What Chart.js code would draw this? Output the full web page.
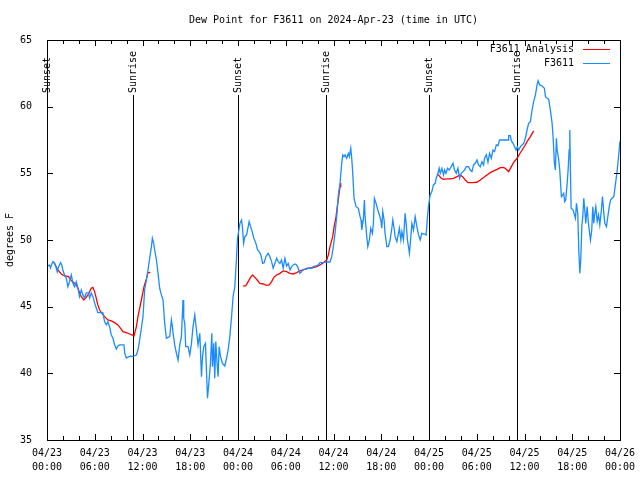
<!DOCTYPE html>
<html>
<head>
<meta charset="utf-8">
<title>Dew Point for F3611</title>
<script src="https://cdn.jsdelivr.net/npm/chart.js@4.4.1/dist/chart.umd.min.js"></script>
<style>
  html, body { margin: 0; padding: 0; background: #fff; }
  #chart { display: block; }
</style>
</head>
<body>
<canvas id="chart" width="640" height="480"></canvas>
<script>
// x values are hours since 04/23 00:00 UTC

// F3611 observations
const obsHours = [
  0.10, 0.31, 0.44, 0.60, 0.73, 0.94, 1.16, 1.28, 1.45, 1.70, 1.86, 1.99, 2.20, 2.42, 2.62, 2.83, 3.05, 3.25, 3.46, 3.68,
  3.88, 4.09, 4.31, 4.51, 4.72, 4.93, 5.22, 5.35, 5.56, 5.77, 5.98, 6.19, 6.39, 6.82, 7.02, 7.24, 7.45, 7.65, 7.87, 8.08,
  8.28, 8.50, 8.71, 8.91, 9.13, 9.67, 9.76, 9.97, 10.26, 10.51, 10.67, 10.93, 11.23, 11.43, 11.64, 11.86, 12.06, 12.27, 12.49, 12.69,
  12.90, 13.12, 13.24, 13.41, 13.53, 13.75, 13.95, 14.16, 14.37, 14.58, 14.79, 15.00, 15.21, 15.42, 15.63, 15.76, 15.84, 16.05, 16.26, 16.47,
  16.68, 16.89, 17.09, 17.18, 17.31, 17.43, 17.72, 17.94, 18.15, 18.35, 18.57, 18.78, 18.98, 19.20, 19.41, 19.54, 19.70, 19.91, 20.04, 20.17,
  20.33, 20.54, 20.71, 20.80, 20.96, 21.08, 21.21, 21.37, 21.50, 21.63, 21.80, 22.05, 22.34, 22.56, 22.76, 22.97, 23.19, 23.39, 23.60, 23.82,
  23.94, 24.11, 24.24, 24.45, 24.57, 24.70, 24.86, 25.08, 25.28, 25.40, 25.58, 25.78, 25.99, 26.25, 26.46, 26.66, 26.88, 27.09, 27.29, 27.50,
  27.79, 28.01, 28.22, 28.42, 28.64, 28.85, 29.05, 29.27, 29.48, 29.68, 29.89, 30.11, 30.31, 30.53, 30.74, 30.94, 31.16, 31.37, 31.57, 31.78,
  32.00, 32.20, 32.54, 32.83, 33.26, 33.46, 33.80, 34.09, 34.30, 34.72, 35.15, 35.56, 35.78, 35.98, 36.19, 36.40, 36.61, 36.82, 37.03, 37.16,
  37.32, 37.45, 37.66, 37.86, 37.99, 38.17, 38.29, 38.42, 38.58, 38.83, 39.12, 39.34, 39.46, 39.55, 39.75, 39.88, 39.97, 40.18, 40.31, 40.51,
  40.68, 40.89, 41.01, 41.14, 41.35, 41.57, 41.77, 41.94, 42.07, 42.19, 42.36, 42.48, 42.70, 42.90, 43.11, 43.33, 43.45, 43.62, 43.74, 43.96,
  44.16, 44.28, 44.46, 44.59, 44.79, 45.00, 45.13, 45.29, 45.42, 45.54, 45.72, 45.85, 46.05, 46.26, 46.48, 46.68, 46.89, 47.10, 47.43, 47.64,
  47.81, 47.93, 48.15, 48.36, 48.56, 48.78, 48.90, 49.07, 49.28, 49.41, 49.62, 49.82, 49.95, 50.13, 50.33, 50.54, 50.79, 51.01, 51.21, 51.42,
  51.64, 51.84, 52.05, 52.27, 52.47, 52.68, 52.97, 53.18, 53.40, 53.60, 53.81, 54.03, 54.23, 54.44, 54.66, 54.86, 54.98, 55.20, 55.41, 55.61,
  55.83, 56.04, 56.24, 56.46, 56.67, 56.87, 57.17, 57.59, 57.93, 58.01, 58.22, 58.35, 58.56, 58.76, 58.94, 59.11, 59.27, 59.49, 59.70, 59.90,
  60.11, 60.32, 60.52, 60.74, 60.95, 61.15, 61.37, 61.58, 61.71, 61.91, 62.21, 62.50, 62.63, 62.84, 63.04, 63.25, 63.47, 63.59, 63.76, 63.88,
  64.01, 64.10, 64.30, 64.43, 64.52, 64.64, 64.80, 64.93, 65.05, 65.18, 65.36, 65.48, 65.61, 65.69, 65.77, 65.86, 66.11, 66.28, 66.40, 66.53,
  66.69, 66.82, 66.95, 67.07, 67.20, 67.32, 67.45, 67.57, 67.70, 67.87, 68.00, 68.13, 68.29, 68.45, 68.58, 68.70, 68.83, 68.96, 69.13, 69.30,
  69.46, 69.64, 69.80, 69.97, 70.09, 70.30, 70.47, 70.65, 70.81, 71.02, 71.22, 71.44, 71.65, 71.86, 71.98
];
const obsValues = [
  48.05, 48.13, 47.90, 48.20, 48.37, 48.28, 47.90, 47.62, 47.98, 48.30, 48.13, 47.75, 47.38, 47.15, 46.50, 46.87, 47.38, 46.78, 46.50, 46.87,
  46.40, 45.75, 46.25, 45.88, 45.65, 46.03, 46.03, 45.65, 46.03, 45.75, 45.28, 44.90, 44.55, 44.55, 44.55, 43.87, 43.63, 43.87, 43.48, 42.88,
  42.65, 42.13, 41.83, 42.05, 42.13, 42.13, 41.53, 41.15, 41.23, 41.30, 41.25, 41.30, 41.38, 41.75, 42.50, 43.40, 44.25, 46.25, 47.00, 47.75,
  48.63, 49.50, 50.13, 49.75, 49.25, 48.50, 47.50, 46.38, 45.88, 45.50, 43.75, 42.63, 42.70, 42.75, 44.00, 43.50, 43.00, 42.13, 41.50, 41.00,
  42.13, 42.75, 45.50, 44.13, 43.75, 42.00, 42.00, 41.38, 42.25, 43.50, 44.38, 43.25, 42.13, 43.00, 39.75, 41.25, 42.00, 42.25, 40.13, 38.13,
  39.25, 40.75, 43.00, 40.50, 42.25, 39.63, 42.38, 40.75, 39.75, 42.00, 41.25, 40.75, 40.55, 41.13, 41.75, 42.75, 44.25, 45.80, 46.50, 48.75,
  50.13, 50.75, 51.25, 51.50, 50.88, 49.75, 50.25, 50.38, 51.00, 51.38, 51.00, 50.63, 50.13, 49.75, 49.25, 49.13, 48.88, 48.25, 48.30, 48.75,
  49.00, 48.75, 48.38, 47.88, 48.25, 48.63, 48.38, 48.25, 48.50, 47.88, 48.63, 48.05, 48.25, 47.75, 48.00, 48.13, 48.20, 48.13, 47.88, 47.50,
  47.63, 47.80, 47.80, 47.88, 47.88, 48.00, 48.05, 48.13, 48.30, 48.30, 48.35, 48.35, 48.75, 49.50, 50.50, 51.75, 53.38, 54.25, 55.75, 56.38,
  56.25, 56.38, 56.13, 56.50, 56.25, 56.88, 56.13, 55.00, 53.13, 52.50, 52.38, 51.75, 51.50, 50.75, 51.50, 53.00, 51.75, 50.25, 49.50, 50.00,
  50.88, 50.50, 51.25, 53.13, 52.75, 52.25, 51.88, 51.50, 50.88, 52.13, 51.50, 50.50, 49.50, 49.50, 50.00, 50.88, 51.50, 50.88, 50.25, 49.88,
  50.50, 50.88, 50.00, 50.63, 50.00, 52.00, 51.25, 50.00, 49.50, 49.00, 50.25, 51.25, 50.75, 51.75, 51.00, 50.38, 50.00, 50.50, 50.45, 50.38,
  51.75, 52.50, 53.38, 53.63, 54.13, 54.25, 54.63, 54.88, 55.38, 55.00, 55.38, 54.88, 55.25, 55.00, 55.38, 55.25, 55.50, 55.75, 55.25, 55.00,
  55.38, 54.63, 55.00, 55.13, 55.25, 55.50, 55.50, 55.25, 55.13, 55.63, 55.75, 56.00, 55.63, 55.50, 55.88, 55.63, 56.13, 56.38, 55.83, 56.50,
  56.13, 56.75, 56.63, 57.13, 57.08, 57.50, 57.50, 57.50, 57.50, 57.83, 57.83, 57.43, 57.25, 57.00, 56.75, 57.00, 56.75, 57.00, 57.13, 57.25,
  57.63, 58.25, 58.75, 58.88, 59.75, 60.38, 60.88, 61.63, 61.95, 61.63, 61.55, 61.38, 60.75, 60.63, 60.55, 59.75, 58.75, 57.75, 55.75, 55.25,
  57.63, 56.75, 56.00, 55.25, 54.38, 53.25, 53.38, 53.50, 52.88, 53.00, 54.25, 55.25, 56.75, 58.25, 55.25, 52.38, 52.25, 51.88, 51.63, 52.75,
  52.00, 49.25, 47.50, 48.50, 51.00, 51.75, 53.13, 52.25, 51.25, 52.50, 51.50, 50.75, 50.00, 50.75, 52.50, 51.25, 52.00, 52.50, 51.38, 51.88,
  51.13, 52.13, 53.25, 52.00, 51.25, 51.00, 51.75, 52.50, 53.00, 53.13, 53.25, 54.25, 55.25, 56.50, 57.38
];

// F3611 Analysis (null = no analysis, line breaks)
const analysisHours = [
  0.73, 0.94, 1.36, 1.79, 2.20, 2.71, 3.05, 3.46, 3.68, 3.88, 4.31, 4.63, 4.93, 5.22, 5.56, 5.77, 5.98, 6.19, 6.39, 6.61,
  6.90, 7.24, 7.65, 8.08, 8.50, 8.91, 9.25, 9.54, 9.97, 10.39, 10.67, 10.93, 11.23, 11.43, 11.64, 11.86, 12.19, 12.49, 12.69, 12.99,
  18.00,
  24.65, 24.99, 25.28, 25.58, 25.83, 26.12, 26.41, 26.75, 27.16, 27.59, 27.92, 28.22, 28.51, 28.85, 29.27, 29.68, 30.11, 30.53, 30.94, 31.37,
  31.78, 32.20, 32.63, 33.04, 33.46, 33.89, 34.30, 34.72, 35.15, 35.35, 35.56, 35.90, 36.07, 36.32, 36.48, 36.82, 36.91,
  42.00,
  48.99, 49.19, 49.53, 49.82, 50.25, 50.67, 51.08, 51.51, 51.92, 52.22, 52.56, 52.90, 53.40, 54.03, 54.44, 54.86, 55.29, 55.70, 56.12, 56.55,
  56.96, 57.38, 57.68, 58.01, 58.35, 58.64, 59.07, 59.36, 59.70, 60.02, 60.32, 60.74, 61.15
];
const analysisValues = [
  48.37, 48.25, 47.75, 47.45, 47.30, 47.25, 46.95, 46.75, 46.63, 46.38, 45.75, 45.50, 45.70, 45.95, 46.38, 46.45, 46.13, 45.63, 45.13, 44.75,
  44.50, 44.25, 44.00, 43.93, 43.80, 43.63, 43.38, 43.13, 43.05, 42.95, 42.88, 42.80, 43.50, 44.25, 44.88, 45.50, 46.50, 47.08, 47.55, 47.58,
  null,
  46.55, 46.58, 46.88, 47.20, 47.38, 47.20, 47.00, 46.75, 46.70, 46.60, 46.63, 46.88, 47.20, 47.38, 47.50, 47.68, 47.63, 47.50, 47.45, 47.55,
  47.68, 47.75, 47.88, 47.90, 47.93, 48.00, 48.13, 48.30, 48.50, 48.88, 49.50, 50.25, 50.98, 51.75, 52.50, 54.00, 54.28,
  null,
  54.93, 54.88, 54.63, 54.55, 54.58, 54.58, 54.63, 54.75, 54.88, 54.75, 54.50, 54.30, 54.30, 54.33, 54.50, 54.68, 54.88, 55.05, 55.18, 55.30,
  55.43, 55.45, 55.33, 55.13, 55.50, 55.83, 56.13, 56.43, 56.75, 57.05, 57.38, 57.75, 58.18
];

// sunrise / sunset markers
const sunEventHours = [0.0, 10.80, 24.02, 35.02, 48.06, 59.06];
const sunEventLabels = ['Sunset', 'Sunrise', 'Sunset', 'Sunrise', 'Sunset', 'Sunrise'];

// axis labels
const dayLabels = ['04/23', '04/24', '04/25', '04/26'];
const timeLabels = ['00:00', '06:00', '12:00', '18:00'];

const FONT = '"DejaVu Sans Mono", "Liberation Mono", monospace';
const toPoints = (xs, ys) => xs.map((x, i) => ({ x, y: ys[i] }));

// gnuplot-like frame, inward ticks, title, legend and sun markers
const gnuplotDecor = {
  id: 'gnuplotDecor',
  beforeDatasetsDraw(chart) {
    const { ctx, chartArea: a, scales: { x } } = chart;
    ctx.save();
    ctx.strokeStyle = '#000';
    ctx.fillStyle = '#000';
    ctx.lineWidth = 1;
    ctx.font = '10px ' + FONT;
    sunEventHours.forEach((h, i) => {
      const px = Math.round(x.getPixelForValue(h)) + 0.5;
      ctx.beginPath();
      ctx.moveTo(px, a.bottom);
      ctx.lineTo(px, a.top + 55);
      ctx.stroke();
      ctx.save();
      ctx.translate(px, a.top + 53);
      ctx.rotate(-Math.PI / 2);
      ctx.textAlign = 'left';
      ctx.textBaseline = 'middle';
      ctx.fillText(sunEventLabels[i], 0, 0);
      ctx.restore();
    });
    ctx.restore();
  },
  afterDraw(chart) {
    const { ctx, chartArea: a, scales: { x, y } } = chart;
    ctx.save();
    ctx.strokeStyle = '#000';
    ctx.lineWidth = 1;
    ctx.strokeRect(a.left + 0.5, a.top + 0.5, a.right - a.left, a.bottom - a.top);

    // x ticks every 2 hours, top and bottom
    ctx.beginPath();
    for (let h = 0; h <= 72; h += 2) {
      const px = Math.round(x.getPixelForValue(h)) + 0.5;
      const len = h % 6 === 0 ? 6 : 4;
      ctx.moveTo(px, a.bottom);
      ctx.lineTo(px, a.bottom - len);
      ctx.moveTo(px, a.top);
      ctx.lineTo(px, a.top + len);
    }
    // y ticks every 5 degrees, left and right
    for (let v = 35; v <= 65; v += 5) {
      const py = Math.round(y.getPixelForValue(v)) + 0.5;
      ctx.moveTo(a.left, py);
      ctx.lineTo(a.left + 6, py);
      ctx.moveTo(a.right, py);
      ctx.lineTo(a.right - 6, py);
    }
    ctx.stroke();

    ctx.fillStyle = '#000';
    ctx.font = '10px ' + FONT;
    ctx.textBaseline = 'middle';
    ctx.textAlign = 'center';
    ctx.fillText('Dew Point for F3611 on 2024-Apr-23 (time in UTC)', (a.left + a.right) / 2, 20);

    ctx.save();
    ctx.translate(10, (a.top + a.bottom) / 2);
    ctx.rotate(-Math.PI / 2);
    ctx.fillText('degrees F', 0, 0);
    ctx.restore();

    // legend, gnuplot style: text right-aligned, line sample on the right
    const items = [chart.data.datasets[0], chart.data.datasets[1]];
    items.forEach((ds, i) => {
      const ly = a.top + 9 + i * 14;
      ctx.textAlign = 'right';
      ctx.fillText(ds.label, 574, ly);
      ctx.strokeStyle = ds.borderColor;
      ctx.beginPath();
      ctx.moveTo(583, ly + 0.5);
      ctx.lineTo(610, ly + 0.5);
      ctx.stroke();
    });
    ctx.restore();
  }
};

new Chart(document.getElementById('chart'), {
  type: 'line',
  data: {
    datasets: [
      {
        label: 'F3611 Analysis',
        data: toPoints(analysisHours, analysisValues),
        borderColor: '#ff0000',
        borderWidth: 1.3,
        pointRadius: 0,
        tension: 0,
        spanGaps: false,
        order: 2,
      },
      {
        label: 'F3611',
        data: toPoints(obsHours, obsValues),
        borderColor: '#1a8cff',
        borderWidth: 1.3,
        pointRadius: 0,
        tension: 0,
        order: 1,
      },
    ],
  },
  options: {
    responsive: false,
    animation: false,
    devicePixelRatio: 1,
    layout: { padding: { top: 40, right: 20, left: 0, bottom: 0 } },
    plugins: {
      legend: { display: false },
      title: { display: false },
      tooltip: { enabled: false },
    },
    scales: {
      x: {
        type: 'linear',
        min: 0,
        max: 72,
        grid: { display: false },
        border: { display: false },
        ticks: {
          stepSize: 6,
          autoSkip: false,
          maxRotation: 0,
          padding: -2,
          color: '#000',
          font: { family: FONT, size: 10, lineHeight: 1.4 },
          callback: (v) => [dayLabels[Math.floor(v / 24)], timeLabels[(v % 24) / 6]],
        },
        afterFit(scale) { scale.height = 40; },
      },
      y: {
        min: 35,
        max: 65,
        grid: { display: false },
        border: { display: false },
        ticks: {
          stepSize: 5,
          padding: 7,
          color: '#000',
          font: { family: FONT, size: 10 },
        },
        afterFit(scale) { scale.width = 47; },
      },
    },
  },
  plugins: [gnuplotDecor],
});
</script>
</body>
</html>
